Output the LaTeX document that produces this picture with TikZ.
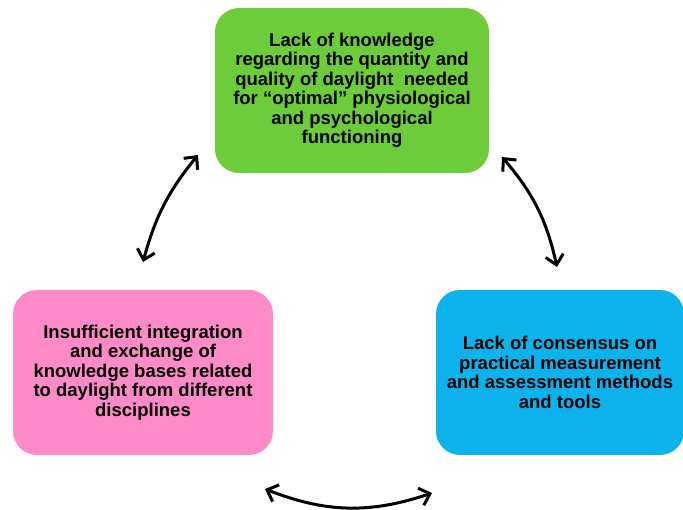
\documentclass[tikz,border=0pt]{standalone}
\usepackage{fontspec}
\setmainfont{Liberation Sans}
\usetikzlibrary{arrows.meta}
\definecolor{boxgreen}{RGB}{108,204,58}
\definecolor{boxpink}{RGB}{255,138,200}
\definecolor{boxblue}{RGB}{12,178,236}
\tikzset{
    issue/.style={rounded corners=24pt, inner sep=0pt, align=center,
        font=\bfseries\fontsize{18.5}{19.5}\selectfont},
    cycle/.style={line width=3pt, {Straight Barb[length=9.5pt,width=18pt,line width=3pt]}-{Straight Barb[length=9.5pt,width=18pt,line width=3pt]}}
}
\begin{document}
\begin{tikzpicture}[x=1pt,y=-1pt]
    \useasboundingbox (0,0) rectangle (683,510);
    % the three issues
    \node[issue, fill=boxgreen, minimum width=274pt, minimum height=165pt] (knowledge) at (352,90.5)
        {Lack of knowledge\\regarding the quantity and\\quality of daylight\ \ needed\\for “optimal” physiological\\and psychological\\functioning};
    \node[issue, fill=boxpink, minimum width=260pt, minimum height=165pt] (integration) at (143,372.5)
        {Insufficient integration\\and exchange of\\knowledge bases related\\to daylight from different\\disciplines};
    \node[issue, fill=boxblue, minimum width=248pt, minimum height=165pt] (consensus) at (560,372.5)
        {Lack of consensus on\\practical measurement\\and assessment methods\\and tools};
    % arrow ends
    \coordinate (lt) at (198,155);
    \coordinate (lb) at (143,262);
    \coordinate (rt) at (502,157);
    \coordinate (rb) at (557,267);
    \coordinate (bl) at (265,489);
    \coordinate (br) at (432,493);
    % arrows
    \draw[cycle] (lt) to[bend right=12] (lb);
    \draw[cycle] (rt) to[bend left=14] (rb);
    \draw[cycle] (bl) to[bend right=20] (br);
\end{tikzpicture}
\end{document}
